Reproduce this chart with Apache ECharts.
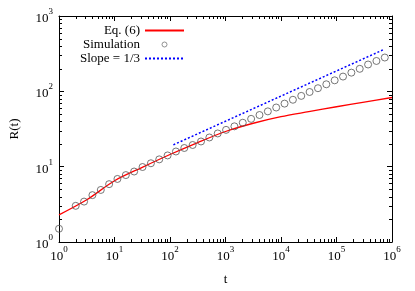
<!DOCTYPE html>
<html><head><meta charset="utf-8">
<script src="https://cdn.jsdelivr.net/npm/echarts@6/dist/echarts.min.js"></script>
<style>html,body{margin:0;padding:0;background:#fff}#c{width:415px;height:291px}</style>
</head><body><div id="c"></div>
<script>
// Simulation points
const simT = [1, 2, 2.83, 4, 5.66, 8, 11.3, 16, 22.6, 32, 45.3, 64, 90.5, 128, 181, 256, 362, 512, 724, 1024, 1448, 2048, 2896, 4096, 5793, 8192, 11585, 16384, 23170, 32768, 46341, 65536, 92682, 131072, 185364, 262144, 370728, 524288, 741455];
const simR = [1.5, 3.02, 3.44, 4.19, 4.91, 5.86, 6.87, 7.73, 8.62, 9.89, 11.1, 12.5, 14.1, 15.9, 17.7, 19.4, 21.6, 24.4, 27.6, 30.8, 34.3, 38.3, 43.1, 48.5, 54.2, 61.0, 68.7, 77.3, 87.0, 98, 110, 124, 140, 157, 177, 199, 227, 253, 281];
// Eq. (6) curve
const eqT = [1, 3.16, 10, 31.6, 100, 316, 1000, 3162, 10000, 31623, 100000, 316228, 1000000];
const eqR = [2.29, 3.63, 6.5, 9.8, 14.5, 20.9, 29.3, 37.7, 46.1, 53.7, 62.4, 72.1, 82.8];
// Slope = 1/3 guide
const slopeT = [115, 730000];
const slopeR = [19.5, 362];
// Axis ranges
const xRange = [1, 1e6];
const yRange = [1, 1e3];
const seriesNames = ['Eq. (6)', 'Simulation', 'Slope = 1/3'];

const zip = (a, b) => a.map((v, i) => [v, b[i]]);
const minorX = [], minorY = [];
for (let d = 1; d < 1e6; d *= 10) for (let m = 2; m <= 9; m++) minorX.push([m * d, 1]);
for (let d = 1; d < 1e3; d *= 10) for (let m = 2; m <= 9; m++) minorY.push([1, m * d]);

const FONT = 'Liberation Serif';
const rich = {
  b: {fontFamily: FONT, fontSize: 13, color: '#000', lineHeight: 18, verticalAlign: 'bottom'},
  s: {fontFamily: FONT, fontSize: 9, color: '#000', lineHeight: 9, verticalAlign: 'top'}
};
const fmt = v => '{b|10}{s|' + Math.round(Math.log10(v)) + '}';
const axLine = {show: true, lineStyle: {color: '#000', width: 1}};
const tick = {show: true, inside: true, length: 5, lineStyle: {color: '#000'}};
const noSym = {color: 'rgba(0,0,0,0)', borderColor: 'rgba(0,0,0,0)', borderWidth: 0};

const chart = echarts.init(document.getElementById('c'), null, {renderer: 'canvas'});
chart.setOption({
  animation: false,
  backgroundColor: '#fff',
  grid: {left: 53, right: 23, top: 16, bottom: 42},
  legend: {
    data: [
      {name: seriesNames[0], itemStyle: noSym},
      {name: seriesNames[1], itemStyle: {color: 'rgba(255,255,255,0)', borderColor: '#555', borderWidth: 0.8}},
      {name: seriesNames[2], itemStyle: noSym}
    ],
    orient: 'vertical', align: 'right',
    right: 230, top: 24, padding: 0,
    itemWidth: 39, itemHeight: 5, itemGap: 1,
    textStyle: {fontFamily: FONT, fontSize: 13, color: '#000', lineHeight: 13},
    selectedMode: false
  },
  xAxis: [
    {type: 'log', min: xRange[0], max: xRange[1], logBase: 10,
     name: 't', nameLocation: 'middle', nameGap: 31,
     nameTextStyle: {fontFamily: FONT, fontSize: 13, color: '#000'},
     axisLine: axLine, axisTick: tick, splitLine: {show: false},
     axisLabel: {formatter: fmt, rich: rich, margin: 3}},
    {type: 'log', min: xRange[0], max: xRange[1], logBase: 10, position: 'top',
     axisLine: axLine, axisTick: tick, splitLine: {show: false}, axisLabel: {show: false}}
  ],
  yAxis: [
    {type: 'log', min: yRange[0], max: yRange[1], logBase: 10,
     name: 'R(t)', nameLocation: 'middle', nameGap: 38,
     nameTextStyle: {fontFamily: FONT, fontSize: 13, color: '#000'},
     axisLine: axLine, axisTick: tick, splitLine: {show: false},
     axisLabel: {formatter: fmt, rich: rich, margin: 6}},
    {type: 'log', min: yRange[0], max: yRange[1], logBase: 10, position: 'right',
     axisLine: axLine, axisTick: tick, splitLine: {show: false}, axisLabel: {show: false}}
  ],
  series: [
    {name: seriesNames[0], type: 'line', data: zip(eqT, eqR), smooth: 0.3, symbol: 'none',
     lineStyle: {color: '#ff0000', width: 1.3}, itemStyle: {color: '#ff0000'}, z: 3},
    {name: seriesNames[1], type: 'scatter', data: zip(simT, simR), symbol: 'circle', symbolSize: 7,
     itemStyle: {color: 'rgba(255,255,255,0)', borderColor: '#555', borderWidth: 1}, z: 4},
    {name: seriesNames[2], type: 'line', data: zip(slopeT, slopeR), symbol: 'none',
     lineStyle: {color: '#0000ff', width: 1.5, type: [2, 2]}, itemStyle: {color: '#0000ff'}, z: 3},
    {type: 'custom', data: minorX, silent: true, z: 5,
     renderItem: (params, api) => {
       const p = api.coord([api.value(0), api.value(1)]);
       const cs = params.coordSys;
       const x = Math.round(p[0]) + 0.5;
       return {type: 'group', children: [
         {type: 'line', shape: {x1: x, y1: cs.y + cs.height, x2: x, y2: cs.y + cs.height - 3}, style: {stroke: '#000', lineWidth: 1}},
         {type: 'line', shape: {x1: x, y1: cs.y, x2: x, y2: cs.y + 3}, style: {stroke: '#000', lineWidth: 1}}
       ]};
     }},
    {type: 'custom', data: minorY, silent: true, z: 5,
     renderItem: (params, api) => {
       const p = api.coord([api.value(0), api.value(1)]);
       const cs = params.coordSys;
       const y = Math.round(p[1]) + 0.5;
       return {type: 'group', children: [
         {type: 'line', shape: {x1: cs.x, y1: y, x2: cs.x + 3, y2: y}, style: {stroke: '#000', lineWidth: 1}},
         {type: 'line', shape: {x1: cs.x + cs.width, y1: y, x2: cs.x + cs.width - 3, y2: y}, style: {stroke: '#000', lineWidth: 1}}
       ]};
     }}
  ]
});
</script>
</body></html>
